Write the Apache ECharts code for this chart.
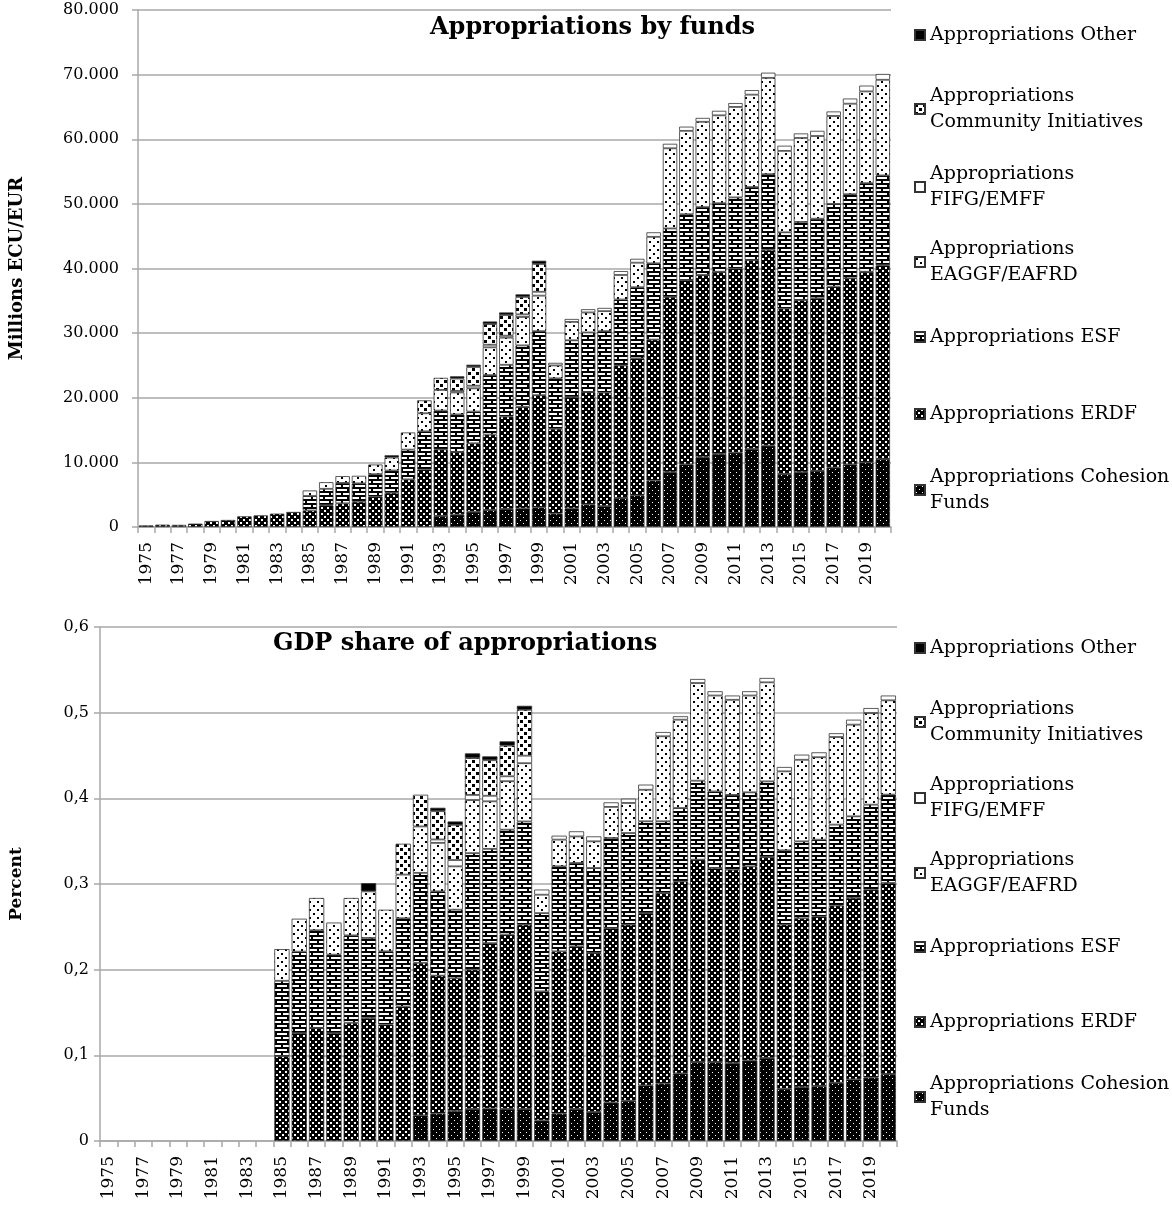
<!DOCTYPE html>
<html><head><meta charset="utf-8">
<script src="https://cdn.jsdelivr.net/npm/echarts@6/dist/echarts.min.js"></script>
<style>html,body{margin:0;padding:0;background:#fff}#c{width:1172px;height:1208px}</style>
</head><body><div id="c"></div><script>
const _ = null;
const years = ['1975','1976','1977','1978','1979','1980','1981','1982','1983','1984','1985','1986','1987','1988','1989','1990','1991','1992','1993','1994','1995','1996','1997','1998','1999','2000','2001','2002','2003','2004','2005','2006','2007','2008','2009','2010','2011','2012','2013','2014','2015','2016','2017','2018','2019','2020'];
const seriesNames = ['Appropriations Cohesion Funds','Appropriations ERDF','Appropriations ESF','Appropriations EAGGF/EAFRD','Appropriations FIFG/EMFF','Appropriations Community Initiatives','Appropriations Other'];
const legendLabels = ['Appropriations Cohesion\nFunds','Appropriations ERDF','Appropriations ESF','Appropriations\nEAGGF/EAFRD','Appropriations\nFIFG/EMFF','Appropriations\nCommunity Initiatives','Appropriations Other'];
const topTitle = 'Appropriations by funds';
const botTitle = 'GDP share of appropriations';
const topAxisName = 'Millions ECU/EUR';
const botAxisName = 'Percent';

// Millions ECU/EUR
const topCohesion = [_,_,_,_,_,_,_,_,_,_,_,_,_,_,_,_,_,_, 1710,1920,2360,2630,2810,2890,3040, 2080,2890,3500,3240,4500,4900, 7200,8500,9700,10800,11300,11500,12100,12600, 8200,8500,8700,9200,9700,10000,10500];
const topERDF = [250,360,330,520,930,1090,1650,1800,2070,2330, 2550,3370,3660,3910,4700,5300,7370,8900, 10300,9700,10600,11670,14290,15710,17360, 13120,17200,17400,17560,20500,21200, 21800,27100,28500,28200,28200,28500,29200,30300, 25600,26600,26700,28000,28800,29500,30000];
const topESF = [_,_,_,_,_,_,_,_,_,_, 2250,2540,3160,2840,3480,3440,4600,5900, 6000,5800,4900,9200,8000,9500,9900, 7800,8800,9200,9500,10200,11000, 11800,10600,10200,10500,10600,11000,11300,11700, 11800,12100,12300,12800,13000,13700,13900];
const topEAGGF = [_,_,_,_,_,_,_,_,_,_, 850,1020,1050,1170,1490,2010,2660,2800, 3200,3400,3600,4300,4200,4400,5500, 2000,2850,3100,3100,3800,3800, 4100,12400,12900,13200,13600,14000,14300,14900, 12600,13000,12800,13600,14000,14200,14800];
const topFIFG = [_,_,_,_,_,_,_,_,_,_,_,_,_,_,_,_,_,_,_, 250,400,400,300,400,600, 400,450,500,500,600,600, 700,700,650,600,700,600,700,800, 800,700,800,700,800,900,900];
const topCI = [_,_,_,_,_,_,_,_,_,_,_,_,_,_,_,_,_, 2000, 1870,1900,2900,3200,3200,2700,4300, _,_,_,_,_,_,_,_,_,_,_,_,_,_,_,_,_,_,_,_,_];
const topOther = [_,_,_,_,_,_,_,_,_,_,_,_,_,_,_, 350, _,_,_, 350,350,400,400,400,500, _,_,_,_,_,_,_,_,_,_,_,_,_,_,_,_,_,_,_,_,_];

// Percent of GDP
const botCohesion = [_,_,_,_,_,_,_,_,_,_,_,_,_,_,_,_,_,_, 0.030,0.032,0.035,0.0375,0.038,0.0375,0.0375, 0.024,0.032,0.0375,0.034,0.045,0.047, 0.065,0.067,0.079,0.092,0.092,0.091,0.094,0.097, 0.061,0.063,0.064,0.068,0.072,0.074,0.078];
const botERDF = [_,_,_,_,_,_,_,_,_,_, 0.099,0.126,0.132,0.126,0.138,0.1436,0.136,0.157, 0.178,0.161,0.155,0.1625,0.193,0.2035,0.215, 0.1507,0.1894,0.1897,0.1855,0.2036,0.2055, 0.201,0.2225,0.224,0.2364,0.2267,0.2257,0.2266,0.2345, 0.1915,0.197,0.198,0.2067,0.2117,0.2194,0.2232];
const botESF = [_,_,_,_,_,_,_,_,_,_, 0.088,0.095,0.114,0.0915,0.102,0.0934,0.0854,0.103, 0.105,0.0984,0.080,0.136,0.110,0.1224,0.1205, 0.0913,0.0992,0.0973,0.0992,0.1051,0.107, 0.1072,0.0837,0.0857,0.0922,0.0893,0.0873,0.0864,0.0883, 0.0868,0.0898,0.0897,0.0946,0.0953,0.0992,0.1031];
const botEAGGF = [_,_,_,_,_,_,_,_,_,_, 0.037,0.0385,0.0377,0.0375,0.0437,0.0544,0.0486,0.051, 0.0542,0.0566,0.0506,0.062,0.0555,0.0566,0.068, 0.0215,0.0312,0.031,0.0311,0.0363,0.0351, 0.0368,0.0992,0.1031,0.114,0.112,0.111,0.113,0.1156, 0.0922,0.0952,0.0963,0.1023,0.107,0.107,0.1101];
const botFIFG = [_,_,_,_,_,_,_,_,_,_,_,_,_,_,_,_,_,_,_, 0.004,0.0074,0.006,0.0065,0.0057,0.0088, 0.006,0.0046,0.006,0.0058,0.0053,0.005, 0.006,0.005,0.004,0.0047,0.005,0.005,0.005,0.0051, 0.0051,0.006,0.0057,0.0044,0.0058,0.0058,0.0056];
const botCI = [_,_,_,_,_,_,_,_,_,_,_,_,_,_,_,_,_, 0.036, 0.037,0.033,0.041,0.043,0.0415,0.0358,0.0535, _,_,_,_,_,_,_,_,_,_,_,_,_,_,_,_,_,_,_,_,_];
const botOther = [_,_,_,_,_,_,_,_,_,_,_,_,_,_,_, 0.0096, _,_,_, 0.004,0.004,0.0055,0.0045,0.005,0.0047, _,_,_,_,_,_,_,_,_,_,_,_,_,_,_,_,_,_,_,_,_];

const topData = [topCohesion, topERDF, topESF, topEAGGF, topFIFG, topCI, topOther];
const botData = [botCohesion, botERDF, botESF, botEAGGF, botFIFG, botCI, botOther];

function pattern(w, h, bg, fg, rects) {
  const c = document.createElement('canvas');
  c.width = w; c.height = h;
  const g = c.getContext('2d');
  g.fillStyle = bg; g.fillRect(0, 0, w, h);
  g.fillStyle = fg;
  rects.forEach(r => g.fillRect(r[0], r[1], r[2], r[3]));
  return { image: c, repeat: 'repeat' };
}
const fills = [
  pattern(6, 6, '#000', '#fff', [[1,1,1,1],[4,4,1,1]]),               // Cohesion
  pattern(6, 6, '#000', '#fff', [[0,0,2,2],[3,3,2,2]]),               // ERDF
  pattern(12, 8, '#000', '#fff', [[1,1,10,2],[0,5,5,2],[7,5,5,2]]),   // ESF
  pattern(8, 8, '#fff', '#000', [[1,1,2,2],[5,5,2,2]]),               // EAGGF
  '#fff',                                                             // FIFG
  pattern(8, 8, '#fff', '#000', [[0,0,3,3],[4,4,3,3]]),               // CI
  '#000'                                                              // Other
];

const FONT = 'DejaVu Serif';
const GRID_COLOR = '#a8a8a8';

const series = [];
[[topData, 0, 'top'], [botData, 1, 'bot']].forEach(([data, idx, st]) => {
  data.forEach((arr, i) => {
    series.push({
      type: 'bar', name: seriesNames[i], stack: st,
      xAxisIndex: idx, yAxisIndex: idx,
      data: arr, barCategoryGap: '12%',
      itemStyle: { color: fills[i], borderColor: '#333', borderWidth: 0.8 },
      emphasis: { disabled: true }
    });
  });
});

const legends = [];
const topCenters = [490, 414, 337, 262, 187, 109, 35];
const botCenters = [1097, 1022, 947, 873, 798, 722, 648];
[topCenters, botCenters].forEach(centers => {
  seriesNames.forEach((n, i) => {
    const two = legendLabels[i].indexOf('\n') >= 0;
    legends.push({
      left: 914, top: centers[i] - (two ? 39 : 13), padding: 0,
      orient: 'vertical', selectedMode: false,
      itemWidth: 10, itemHeight: 10, icon: 'rect',
      formatter: () => legendLabels[i],
      textStyle: { fontFamily: FONT, fontSize: 19, lineHeight: 26, color: '#000', padding: two ? [26, 0, 0, 0] : 0 },
      data: [n]
    });
  });
});

function xAxis(gi) {
  return {
    type: 'category', gridIndex: gi, data: years,
    axisLine: { lineStyle: { color: GRID_COLOR, width: 1.5 } },
    axisTick: { show: true, interval: 0, length: 6, lineStyle: { color: GRID_COLOR, width: 1.5 } },
    axisLabel: { interval: 1, rotate: 90, margin: 15, fontFamily: FONT, fontSize: 17, color: '#000' },
    splitLine: { show: false }
  };
}

const option = {
  animation: false,
  backgroundColor: '#fff',
  title: [
    { text: topTitle, left: 430, top: 16, padding: 0, textStyle: { fontFamily: FONT, fontSize: 24, fontWeight: 'bold', color: '#000' } },
    { text: botTitle, left: 273, top: 632, padding: 0, textStyle: { fontFamily: FONT, fontSize: 24, fontWeight: 'bold', color: '#000' } }
  ],
  legend: legends,
  grid: [
    { left: 137, top: 10, width: 754, height: 517 },
    { left: 99, top: 627, width: 798, height: 514 }
  ],
  xAxis: [xAxis(0), xAxis(1)],
  yAxis: [
    {
      type: 'value', gridIndex: 0, min: 0, max: 80000, interval: 10000,
      name: topAxisName, nameLocation: 'middle', nameGap: 112,
      nameTextStyle: { fontFamily: FONT, fontSize: 18, fontWeight: 'bold', color: '#000' },
      axisLine: { show: true, lineStyle: { color: GRID_COLOR, width: 1.5 } },
      axisTick: { show: true, length: 6, lineStyle: { color: GRID_COLOR, width: 1.5 } },
      axisLabel: { margin: 19, fontFamily: FONT, fontSize: 16, color: '#000',
        formatter: v => String(v).replace(/\B(?=(\d{3})+(?!\d))/g, '.') },
      splitLine: { lineStyle: { color: GRID_COLOR, width: 1.5 } }
    },
    {
      type: 'value', gridIndex: 1, min: 0, max: 0.6, interval: 0.1,
      name: botAxisName, nameLocation: 'middle', nameGap: 75,
      nameTextStyle: { fontFamily: FONT, fontSize: 17, fontWeight: 'bold', color: '#000' },
      axisLine: { show: true, lineStyle: { color: GRID_COLOR, width: 1.5 } },
      axisTick: { show: true, length: 6, lineStyle: { color: GRID_COLOR, width: 1.5 } },
      axisLabel: { margin: 11, fontFamily: FONT, fontSize: 16, color: '#000',
        formatter: v => v === 0 ? '0' : v.toFixed(1).replace('.', ',') },
      splitLine: { lineStyle: { color: GRID_COLOR, width: 1.5 } }
    }
  ],
  series: series
};
const chart = echarts.init(document.getElementById('c'), null, { renderer: 'canvas' });
chart.setOption(option);
</script></body></html>
